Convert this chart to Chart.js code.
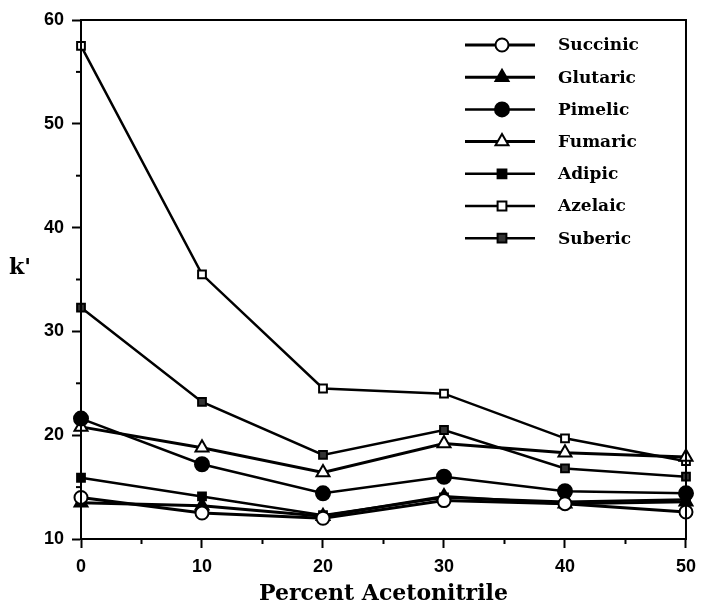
<!DOCTYPE html>
<html>
<head>
<meta charset="utf-8">
<script src="https://cdn.jsdelivr.net/npm/chart.js@4/dist/chart.umd.min.js"></script>
<style>
  html, body { margin: 0; padding: 0; background: #fff; }
  #wrap { width: 704px; height: 607px; }
</style>
</head>
<body>
<div id="wrap"><canvas id="myChart" width="704" height="607"></canvas></div>
<script>
// Données
const pourcentAcetonitrile = [0, 10, 20, 30, 40, 50];
const succinic = [14.0, 12.5, 12.0, 13.7, 13.4, 12.6];
const glutaric = [13.5, 13.2, 12.2, 14.1, 13.4, 13.6];
const pimelic = [21.6, 17.2, 14.4, 16.0, 14.6, 14.4];
const fumaric = [20.8, 18.8, 16.4, 19.2, 18.3, 17.9];
const adipic = [15.9, 14.1, 12.3, 14.0, 13.6, 13.8];
const azelaic = [57.5, 35.5, 24.5, 24.0, 19.7, 17.5];
const suberic = [32.3, 23.2, 18.1, 20.5, 16.8, 16.0];
const yTicks = [10, 20, 30, 40, 50, 60];
const xTicks = [0, 10, 20, 30, 40, 50];

function points(valeurs) {
  return valeurs.map((v, i) => ({ x: pourcentAcetonitrile[i], y: v }));
}

function serie(label, valeurs, style, rayon, fond, epaisseur) {
  return {
    label: label,
    data: points(valeurs),
    borderColor: '#000',
    borderWidth: epaisseur,
    pointStyle: style,
    pointRadius: rayon,
    pointBackgroundColor: fond,
    pointBorderColor: '#000',
    pointBorderWidth: 2,
    fill: false,
    tension: 0,
    clip: false
  };
}

const datasets = [
  serie('Succinic', succinic, 'circle', 6.5, '#fff', 3),
  serie('Glutaric', glutaric, 'triangle', 7.5, '#000', 3),
  serie('Pimelic', pimelic, 'circle', 7, '#000', 2.5),
  serie('Fumaric', fumaric, 'triangle', 7.5, '#fff', 3),
  serie('Adipic', adipic, 'rect', 5.5, '#000', 2.5),
  serie('Azelaic', azelaic, 'rect', 5.5, '#fff', 2.5),
  serie('Suberic', suberic, 'rect', 5.5, '#333', 2.5)
];

// Cadre, graduations secondaires, titre vertical et légende
const decorPlugin = {
  id: 'decor',
  afterDraw(chart) {
    const ctx = chart.ctx;
    const a = chart.chartArea;
    const sx = chart.scales.x, sy = chart.scales.y;
    ctx.save();
    ctx.strokeStyle = '#000';
    ctx.lineWidth = 2;
    ctx.strokeRect(a.left, a.top, a.right - a.left, a.bottom - a.top);
    for (let v = 15; v < 60; v += 10) {
      const y = sy.getPixelForValue(v);
      ctx.beginPath(); ctx.moveTo(a.left - 5, y); ctx.lineTo(a.left, y); ctx.stroke();
    }
    for (let v = 5; v < 50; v += 10) {
      const x = sx.getPixelForValue(v);
      ctx.beginPath(); ctx.moveTo(x, a.bottom); ctx.lineTo(x, a.bottom + 5); ctx.stroke();
    }
    // titre de l'axe y (horizontal)
    ctx.fillStyle = '#000';
    ctx.font = "bold 22px 'DejaVu Serif'";
    ctx.textAlign = 'center';
    ctx.textBaseline = 'middle';
    ctx.fillText("k'", 20, 268);

    // légende
    let y = 45;
    ctx.font = "bold 17px 'DejaVu Serif'";
    ctx.textAlign = 'left';
    chart.data.datasets.forEach(ds => {
      ctx.lineWidth = ds.borderWidth;
      ctx.strokeStyle = '#000';
      ctx.beginPath(); ctx.moveTo(465, y); ctx.lineTo(535, y); ctx.stroke();
      dessinerMarqueur(ctx, ds.pointStyle, 502, y, ds.pointRadius, ds.pointBackgroundColor);
      ctx.fillStyle = '#000';
      ctx.fillText(ds.label, 558, y + 1);
      y += 32.2;
    });
    ctx.restore();
  }
};

function dessinerMarqueur(ctx, style, x, y, r, fond) {
  ctx.beginPath();
  if (style === 'circle') {
    ctx.arc(x, y, r, 0, Math.PI * 2);
  } else if (style === 'triangle') {
    ctx.moveTo(x, y - r);
    ctx.lineTo(x + r * 0.866, y + r * 0.5);
    ctx.lineTo(x - r * 0.866, y + r * 0.5);
    ctx.closePath();
  } else {
    const s = r * 0.8;
    ctx.rect(x - s, y - s, 2 * s, 2 * s);
  }
  ctx.fillStyle = fond;
  ctx.fill();
  ctx.lineWidth = 2;
  ctx.strokeStyle = '#000';
  ctx.stroke();
}

new Chart(document.getElementById('myChart').getContext('2d'), {
  type: 'line',
  data: { datasets: datasets },
  options: {
    responsive: false,
    animation: false,
    layout: { padding: { left: 0, right: 9, top: 20, bottom: 0 } },
    plugins: {
      legend: { display: false },
      tooltip: { enabled: false }
    },
    scales: {
      x: {
        type: 'linear',
        min: 0,
        max: 50,
        afterBuildTicks: s => { s.ticks = xTicks.map(v => ({ value: v })); },
        afterFit: s => { s.height = 68; },
        border: { display: true, color: '#000', width: 2 },
        grid: { drawOnChartArea: false, color: '#000', tickLength: 9, tickWidth: 2 },
        ticks: {
          color: '#000',
          padding: 8,
          font: { family: "'Liberation Sans'", size: 18, weight: 'bold' }
        },
        title: {
          display: true,
          text: 'Percent Acetonitrile',
          color: '#000',
          padding: { top: 2, bottom: 0 },
          font: { family: "'DejaVu Serif'", size: 22, weight: 'bold' }
        }
      },
      y: {
        type: 'linear',
        min: 10,
        max: 60,
        afterBuildTicks: s => { s.ticks = yTicks.map(v => ({ value: v })); },
        afterFit: s => { s.width = 81; },
        border: { display: true, color: '#000', width: 2 },
        grid: { drawOnChartArea: false, color: '#000', tickLength: 9, tickWidth: 2 },
        ticks: {
          color: '#000',
          padding: 8,
          font: { family: "'Liberation Sans'", size: 18, weight: 'bold' }
        }
      }
    }
  },
  plugins: [decorPlugin]
});
</script>
</body>
</html>
